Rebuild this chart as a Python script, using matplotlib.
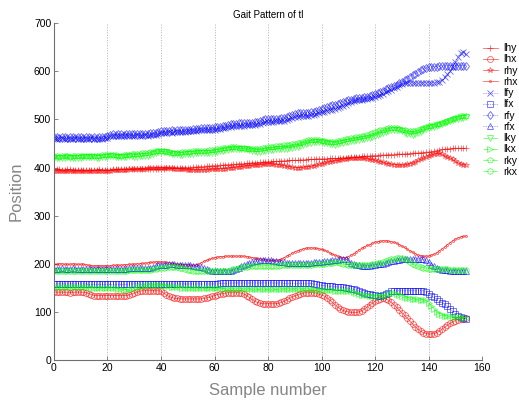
import matplotlib
matplotlib.use("Agg")
import matplotlib.pyplot as plt
import numpy as np

plt.rcParams['font.family'] = ['Liberation Sans', 'DejaVu Sans']

# Joint trajectories (pixel positions per sample)
lhy = [396, 396, 396, 395, 395, 396, 396, 395, 395, 395,
       395, 395, 394, 394, 395, 395, 395, 396, 395, 395,
       395, 395, 396, 396, 396, 397, 397, 396, 397, 397,
       397, 397, 398, 398, 398, 397, 398, 398, 398, 398,
       398, 398, 399, 399, 399, 400, 400, 399, 400, 400,
       400, 400, 401, 401, 402, 402, 402, 403, 403, 404,
       404, 404, 405, 405, 406, 406, 406, 407, 407, 408,
       408, 408, 409, 409, 410, 410, 410, 411, 411, 412,
       412, 412, 413, 413, 413, 414, 414, 414, 415, 415,
       415, 415, 416, 416, 416, 417, 417, 417, 418, 418,
       418, 418, 418, 419, 419, 419, 419, 420, 420, 420,
       420, 421, 421, 422, 422, 423, 423, 424, 424, 425,
       425, 425, 426, 426, 426, 427, 427, 427, 428, 428,
       428, 428, 429, 429, 430, 430, 430, 431, 431, 432,
       432, 433, 434, 435, 436, 438, 438, 439, 439, 440,
       440, 440, 440, 440, 440]

lhx = [141, 141, 141, 141, 141, 141, 140, 141, 141, 141,
       141, 141, 140, 138, 136, 134, 134, 134, 134, 134,
       134, 134, 134, 134, 134, 134, 134, 134, 135, 137,
       139, 141, 143, 144, 144, 144, 144, 144, 144, 144,
       143, 139, 135, 132, 130, 128, 128, 127, 127, 127,
       127, 127, 127, 127, 127, 127, 128, 129, 130, 132,
       134, 136, 137, 138, 139, 140, 140, 140, 140, 140,
       139, 137, 134, 130, 126, 122, 120, 118, 117, 117,
       117, 117, 117, 117, 118, 120, 122, 125, 128, 131,
       133, 135, 137, 139, 140, 140, 140, 140, 139, 137,
       135, 133, 129, 125, 120, 115, 110, 106, 103, 101,
       100, 99, 99, 99, 100, 102, 106, 110, 114, 118,
       122, 125, 127, 128, 127, 124, 120, 115, 110, 104,
       98, 93, 87, 81, 75, 69, 64, 60, 57, 55,
       54, 54, 55, 57, 60, 64, 68, 72, 76, 79,
       82, 84, 85, 86, 87]

rhy = [393, 393, 393, 392, 392, 392, 392, 392, 392, 392,
       392, 392, 392, 392, 392, 393, 393, 393, 393, 393,
       393, 393, 394, 394, 394, 395, 395, 395, 396, 396,
       396, 397, 397, 398, 398, 399, 399, 399, 400, 400,
       400, 400, 400, 399, 399, 398, 398, 397, 396, 396,
       395, 395, 395, 395, 395, 395, 395, 395, 396, 396,
       396, 397, 397, 398, 398, 399, 399, 400, 401, 401,
       402, 403, 403, 404, 405, 405, 406, 406, 407, 407,
       408, 408, 407, 406, 406, 405, 404, 403, 402, 401,
       400, 400, 400, 401, 401, 402, 403, 404, 405, 407,
       408, 409, 411, 412, 413, 414, 415, 416, 418, 418,
       419, 419, 420, 420, 420, 420, 419, 418, 417, 416,
       415, 414, 412, 411, 409, 408, 407, 406, 406, 405,
       405, 405, 407, 408, 410, 412, 415, 417, 420, 422,
       425, 426, 428, 429, 430, 428, 425, 422, 420, 417,
       413, 410, 408, 406, 405]

rhx = [199, 199, 200, 200, 199, 199, 199, 200, 199, 199,
       199, 199, 198, 197, 196, 196, 196, 196, 196, 196,
       196, 196, 197, 197, 197, 197, 198, 198, 199, 199,
       199, 200, 200, 201, 201, 202, 203, 203, 204, 204,
       204, 204, 203, 202, 201, 200, 199, 199, 198, 198,
       198, 197, 197, 197, 199, 202, 205, 207, 209, 211,
       213, 214, 215, 215, 216, 216, 216, 216, 216, 216,
       216, 216, 215, 214, 213, 212, 211, 210, 209, 208,
       207, 207, 207, 207, 208, 210, 213, 216, 219, 222,
       225, 227, 229, 231, 232, 233, 233, 233, 232, 231,
       230, 228, 226, 223, 220, 218, 216, 214, 213, 213,
       215, 218, 221, 225, 229, 232, 235, 238, 240, 243,
       245, 246, 247, 248, 248, 247, 246, 245, 243, 240,
       237, 234, 230, 227, 224, 221, 218, 217, 216, 216,
       216, 218, 220, 223, 227, 231, 235, 240, 244, 248,
       251, 254, 256, 257, 258]

lfy = [461, 460, 460, 461, 460, 459, 460, 460, 461, 460,
       460, 459, 460, 460, 461, 460, 460, 459, 460, 461,
       462, 465, 466, 466, 465, 466, 466, 467, 466, 466,
       466, 467, 466, 466, 467, 466, 467, 467, 468, 469,
       471, 472, 472, 473, 472, 473, 473, 474, 473, 474,
       475, 475, 476, 476, 477, 477, 477, 478, 478, 479,
       479, 480, 481, 482, 483, 484, 485, 486, 486, 487,
       487, 487, 488, 488, 488, 489, 490, 491, 493, 494,
       494, 495, 495, 496, 496, 496, 497, 498, 500, 503,
       505, 506, 507, 507, 508, 508, 509, 510, 512, 514,
       515, 516, 518, 519, 520, 522, 523, 525, 528, 531,
       534, 537, 539, 540, 541, 541, 542, 543, 544, 545,
       547, 549, 551, 553, 556, 559, 562, 565, 568, 571,
       573, 575, 576, 576, 576, 575, 575, 576, 576, 576,
       576, 576, 576, 577, 578, 582, 588, 594, 600, 610,
       620, 630, 638, 640, 635]

lfx = [158, 158, 158, 158, 158, 158, 158, 158, 158, 158,
       158, 158, 158, 157, 157, 157, 157, 157, 157, 157,
       157, 157, 157, 157, 157, 157, 157, 157, 158, 158,
       158, 158, 158, 158, 158, 158, 158, 158, 158, 158,
       158, 158, 158, 158, 158, 158, 158, 158, 158, 158,
       158, 158, 158, 158, 158, 158, 158, 158, 158, 158,
       158, 158, 159, 159, 159, 159, 160, 160, 160, 160,
       160, 160, 160, 160, 160, 160, 160, 160, 160, 160,
       160, 160, 160, 160, 160, 160, 159, 159, 159, 159,
       159, 159, 159, 159, 159, 159, 159, 158, 157, 156,
       155, 154, 154, 153, 153, 152, 152, 151, 151, 150,
       149, 148, 147, 145, 143, 141, 140, 138, 137, 136,
       135, 134, 134, 135, 137, 140, 143, 144, 144, 144,
       144, 144, 144, 144, 144, 144, 144, 144, 144, 142,
       138, 134, 130, 126, 122, 119, 116, 112, 107, 102,
       96, 92, 89, 87, 86]

rfy = [463, 463, 462, 463, 463, 462, 463, 463, 462, 463,
       463, 462, 463, 463, 462, 463, 462, 463, 463, 464,
       466, 468, 469, 468, 469, 469, 468, 469, 469, 470,
       469, 470, 470, 469, 470, 470, 471, 471, 472, 473,
       475, 475, 476, 476, 477, 476, 477, 477, 478, 478,
       479, 479, 480, 481, 481, 482, 482, 482, 483, 483,
       484, 484, 485, 486, 487, 489, 490, 491, 491, 492,
       492, 492, 492, 493, 493, 494, 495, 497, 499, 500,
       500, 501, 501, 500, 501, 502, 503, 505, 508, 510,
       512, 513, 513, 514, 514, 514, 515, 516, 517, 519,
       521, 523, 525, 527, 529, 531, 533, 535, 537, 539,
       540, 541, 542, 544, 545, 545, 546, 547, 548, 550,
       552, 554, 557, 560, 563, 566, 568, 570, 572, 575,
       578, 582, 585, 589, 592, 595, 599, 602, 605, 607,
       608, 609, 610, 610, 611, 611, 611, 612, 612, 612,
       612, 612, 612, 612, 612]

rfx = [190, 190, 190, 191, 190, 190, 190, 191, 190, 190,
       190, 190, 189, 189, 189, 190, 190, 190, 190, 189,
       189, 189, 190, 190, 190, 190, 190, 190, 191, 191,
       191, 191, 191, 191, 191, 191, 192, 194, 196, 197,
       198, 198, 198, 199, 199, 199, 198, 198, 198, 198,
       198, 197, 196, 195, 194, 193, 191, 189, 187, 186,
       186, 186, 186, 186, 186, 186, 186, 187, 189, 192,
       195, 197, 199, 201, 203, 205, 206, 207, 208, 208,
       208, 207, 206, 205, 204, 203, 203, 202, 202, 202,
       202, 202, 202, 202, 202, 202, 202, 203, 203, 204,
       204, 205, 205, 206, 207, 208, 208, 209, 210, 210,
       206, 202, 200, 198, 197, 196, 196, 196, 196, 197,
       198, 199, 199, 200, 202, 204, 205, 206, 207, 208,
       209, 209, 210, 210, 210, 210, 210, 210, 209, 207,
       203, 198, 195, 192, 190, 188, 187, 187, 186, 186,
       186, 186, 186, 186, 186]

lky = [420, 420, 419, 420, 420, 421, 420, 419, 420, 420,
       420, 421, 421, 422, 422, 421, 420, 420, 421, 421,
       422, 423, 423, 422, 421, 421, 422, 422, 423, 423,
       422, 422, 423, 424, 424, 425, 426, 428, 430, 432,
       433, 433, 432, 431, 429, 428, 428, 427, 427, 428,
       428, 429, 429, 430, 430, 430, 430, 430, 431, 431,
       432, 433, 434, 435, 436, 437, 438, 438, 439, 439,
       439, 439, 438, 437, 435, 434, 433, 433, 434, 435,
       436, 437, 437, 438, 438, 438, 439, 439, 440, 441,
       442, 443, 445, 447, 449, 451, 452, 453, 454, 454,
       453, 452, 450, 449, 448, 447, 448, 450, 451, 453,
       454, 455, 456, 457, 458, 459, 460, 461, 462, 464,
       466, 468, 470, 472, 474, 476, 477, 478, 478, 477,
       475, 472, 470, 469, 468, 469, 471, 474, 477, 480,
       482, 484, 485, 487, 488, 490, 492, 494, 496, 498,
       500, 501, 502, 504, 505]

lkx = [152, 152, 152, 151, 152, 152, 152, 151, 151, 151,
       151, 151, 151, 151, 150, 150, 150, 150, 150, 150,
       150, 150, 150, 149, 148, 147, 146, 146, 147, 148,
       150, 151, 152, 153, 154, 155, 156, 156, 155, 155,
       155, 154, 154, 153, 152, 152, 151, 151, 150, 150,
       150, 150, 150, 150, 149, 149, 149, 149, 149, 149,
       149, 149, 149, 148, 148, 148, 148, 148, 148, 148,
       148, 148, 148, 148, 147, 147, 147, 147, 147, 147,
       147, 147, 147, 147, 147, 148, 148, 148, 148, 148,
       148, 148, 148, 148, 148, 148, 147, 147, 146, 146,
       145, 145, 145, 145, 145, 144, 144, 144, 144, 144,
       144, 143, 141, 139, 137, 136, 135, 135, 134, 134,
       134, 134, 134, 134, 134, 137, 140, 140, 137, 135,
       133, 131, 129, 128, 127, 126, 126, 125, 125, 124,
       119, 112, 106, 100, 96, 93, 92, 91, 91, 90,
       90, 89, 89, 88, 88]

rky = [423, 423, 422, 423, 424, 423, 422, 423, 423, 424,
       424, 424, 425, 425, 424, 424, 425, 425, 426, 426,
       427, 427, 426, 426, 425, 425, 426, 426, 427, 428,
       428, 429, 429, 430, 430, 431, 432, 433, 434, 434,
       434, 434, 433, 432, 431, 431, 431, 431, 432, 432,
       433, 433, 434, 434, 434, 435, 435, 435, 436, 436,
       437, 438, 439, 440, 441, 441, 442, 442, 442, 441,
       440, 440, 439, 439, 438, 438, 438, 439, 440, 441,
       442, 443, 443, 444, 444, 445, 446, 446, 447, 448,
       449, 450, 452, 454, 456, 457, 458, 458, 458, 457,
       456, 455, 454, 453, 453, 454, 455, 456, 458, 459,
       460, 461, 462, 463, 464, 465, 466, 467, 469, 471,
       473, 475, 477, 479, 481, 482, 483, 483, 482, 481,
       479, 477, 476, 475, 475, 476, 478, 480, 482, 484,
       486, 487, 488, 490, 491, 493, 495, 497, 499, 501,
       503, 505, 507, 508, 508]

rkx = [185, 185, 184, 185, 185, 186, 185, 185, 184, 185,
       185, 185, 186, 185, 185, 184, 185, 185, 185, 186,
       185, 185, 185, 186, 186, 186, 186, 186, 187, 187,
       187, 187, 187, 187, 188, 188, 188, 189, 190, 191,
       192, 192, 193, 193, 193, 193, 193, 192, 191, 190,
       188, 187, 186, 186, 185, 185, 185, 185, 185, 185,
       185, 185, 185, 186, 186, 186, 187, 189, 190, 192,
       193, 194, 194, 195, 195, 195, 196, 196, 196, 196,
       196, 196, 196, 196, 196, 197, 197, 197, 197, 197,
       197, 197, 197, 198, 198, 198, 198, 199, 199, 199,
       200, 200, 201, 202, 202, 203, 203, 202, 200, 199,
       198, 198, 197, 197, 197, 197, 197, 198, 198, 199,
       200, 201, 202, 204, 206, 208, 209, 210, 211, 211,
       211, 210, 207, 203, 200, 197, 195, 193, 192, 191,
       190, 190, 190, 189, 189, 189, 189, 189, 188, 188,
       188, 188, 188, 188, 188]

labels = ['lhy', 'lhx', 'rhy', 'rhx', 'lfy', 'lfx', 'rfy', 'rfx',
          'lky', 'lkx', 'rky', 'rkx']
series = [lhy, lhx, rhy, rhx, lfy, lfx, rfy, rfx, lky, lkx, rky, rkx]
markers = ['+', 'o', '*', '.', 'x', 's', 'd', '^', 'v', '>', 'p', 'h']
colors = ['#ff0000'] * 4 + ['#0000ff'] * 4 + ['#00ff00'] * 4
styles = ['-'] * 4 + [':'] * 4 + ['-.'] * 4

fig = plt.figure(figsize=(5.19, 4.0), dpi=100)
ax = fig.add_axes([0.104, 0.1, 0.825, 0.842])

samples = np.arange(len(lhy))
for y, lab, m, c, ls in zip(series, labels, markers, colors, styles):
    ms = 3 if m == '.' else 4.3
    ax.plot(samples, y, linestyle=ls, color=c, linewidth=0.6, alpha=0.6,
            marker=m, markersize=ms, markerfacecolor='none',
            markeredgecolor=c, markeredgewidth=0.6, label=lab)

ax.set_xlim(0, 160)
ax.set_ylim(0, 700)
ax.set_xticks(np.arange(0, 161, 20))
ax.set_yticks(np.arange(0, 701, 100))
ax.xaxis.grid(True, linestyle=':', color='#b0b0b0', linewidth=0.7)
ax.set_axisbelow(True)
for side in ('top', 'right'):
    ax.spines[side].set_visible(False)
for side in ('left', 'bottom'):
    ax.spines[side].set_color('#707070')
    ax.spines[side].set_linewidth(0.8)
ax.tick_params(direction='in', length=3, width=0.6, colors='#707070',
               labelcolor='black', labelsize=7.5, pad=2)

ax.set_title('Gait Pattern of tl', fontsize=7, pad=4)
ax.set_xlabel('Sample number', fontsize=12, color='#858585', labelpad=7)
ax.set_ylabel('Position', fontsize=12, color='#858585', labelpad=7)

ax.legend(loc='upper left', bbox_to_anchor=(0.931, 0.892),
          bbox_transform=fig.transFigure, frameon=False, fontsize=7.5,
          handlelength=1.4, handletextpad=0.55, labelspacing=0.12,
          borderaxespad=0, borderpad=0)

fig.savefig('out.png', dpi=100)
